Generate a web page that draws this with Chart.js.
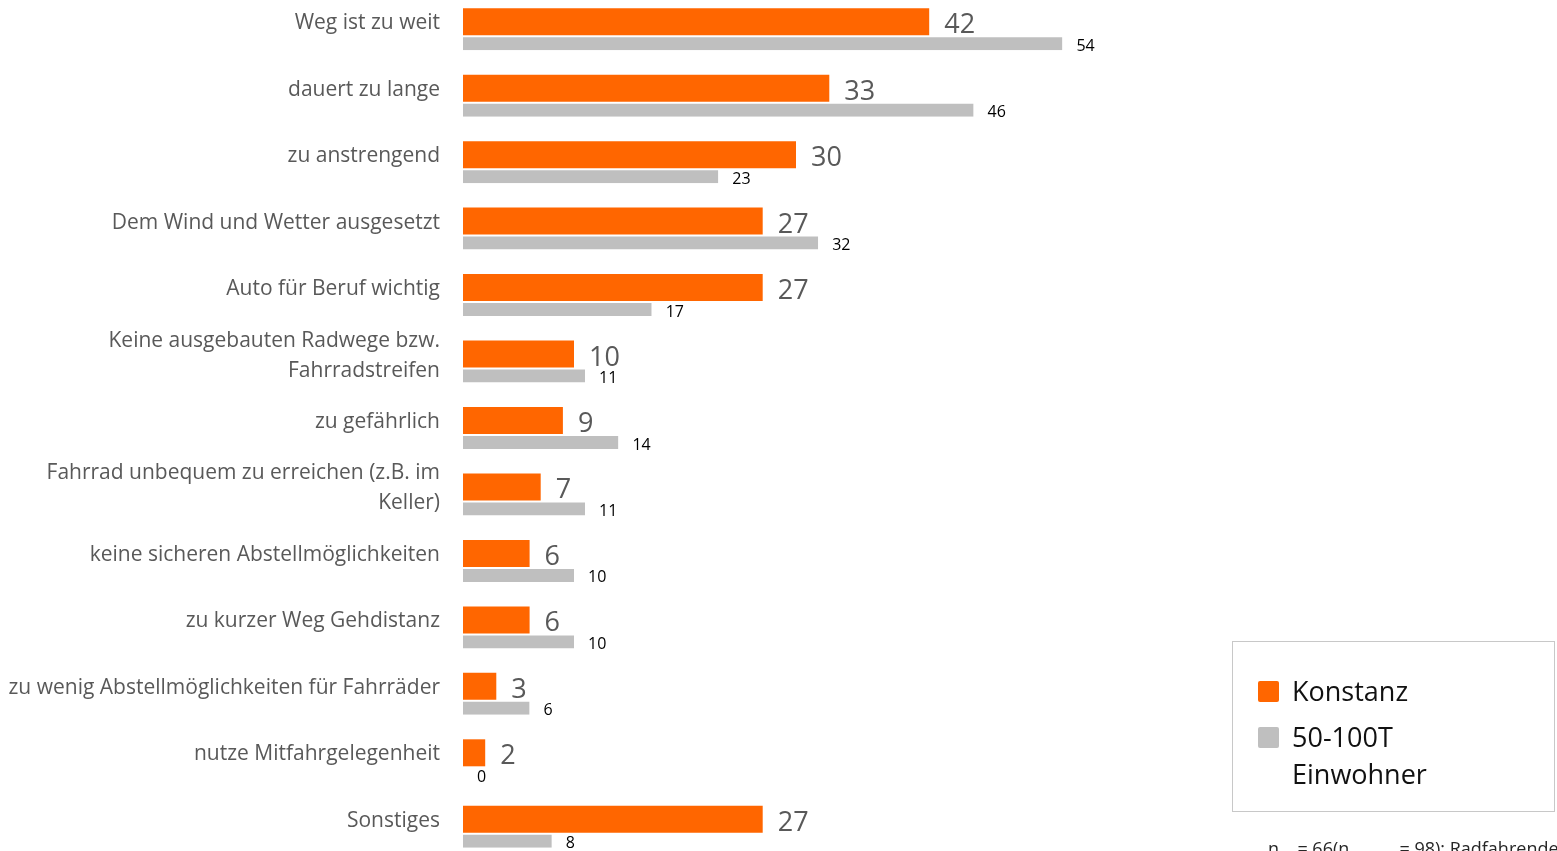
<!DOCTYPE html>
<html>
<head>
<meta charset="utf-8">
<title>Gründe gegen das Fahrrad</title>
<script src="https://cdn.jsdelivr.net/npm/chart.js@4.4.0/dist/chart.umd.min.js"></script>
<style>
  body { margin: 0; background: #fff; overflow: hidden; font-family: "Open Sans", sans-serif; }
  #wrap { position: relative; width: 1557px; height: 900px; }
  #legend { position: absolute; left: 1232px; top: 641px; width: 321px; height: 169px; border: 1px solid #c8c8c8; }
  .item { position: absolute; left: 25px; font-size: 27px; line-height: 37px; color: #111; width: 230px; }
  .swatch { position: absolute; left: 0; top: 9px; width: 21px; height: 21px; border-radius: 2px; }
  .item span.txt { display: block; margin-left: 34px; width: 180px; }
  #note { position: absolute; left: 1268px; top: 839px; font-size: 18px; line-height: 18px; color: #262626; white-space: nowrap; }
  #note sub { font-size: 10px; }
</style>
</head>
<body>
<div id="wrap">
  <canvas id="myChart" width="1557" height="900"></canvas>
  <div id="legend"></div>
  <div id="note">n<sub>KN</sub> = 66(n<sub>50-100T E</sub> = 98); Radfahrende</div>
</div>
<script>
// categories (top to bottom)
const categories = [
  'Weg ist zu weit',
  'dauert zu lange',
  'zu anstrengend',
  'Dem Wind und Wetter ausgesetzt',
  'Auto für Beruf wichtig',
  ['Keine ausgebauten Radwege bzw.', 'Fahrradstreifen'],
  'zu gefährlich',
  ['Fahrrad unbequem zu erreichen (z.B. im', 'Keller)'],
  'keine sicheren Abstellmöglichkeiten',
  'zu kurzer Weg Gehdistanz',
  'zu wenig Abstellmöglichkeiten für Fahrräder',
  'nutze Mitfahrgelegenheit',
  'Sonstiges'
]

// values in percent
const konstanz = [42, 33, 30, 27, 27, 10, 9, 7, 6, 6, 3, 2, 27]
const einwohner50to100 = [54, 46, 23, 32, 17, 11, 14, 11, 10, 10, 6, 0, 8]

const seriesNames = ['Konstanz', '50-100T Einwohner']
const seriesColors = ['#FF6600', '#BFBFBF']

// draws the numbers next to the bars
const valueLabels = {
  id: 'valueLabels',
  afterDatasetsDraw(chart) {
    const ctx = chart.ctx
    ctx.save()
    ctx.textAlign = 'left'
    ctx.textBaseline = 'alphabetic'
    chart.data.datasets.forEach(function (ds, i) {
      const meta = chart.getDatasetMeta(i)
      meta.data.forEach(function (bar, j) {
        if (i === 0) {
          ctx.font = '27px "Open Sans"'
          ctx.fillStyle = '#595959'
          ctx.fillText(ds.data[j], bar.x + 15, bar.y + 11.5)
        } else {
          ctx.font = '16px "Open Sans"'
          ctx.fillStyle = '#000000'
          ctx.fillText(ds.data[j], bar.x + 14, bar.y + 8)
        }
      })
    })
    ctx.restore()
  }
}

var ctx = document.getElementById('myChart').getContext('2d')
var chart = new Chart(ctx, {
  type: 'bar',
  data: {
    labels: categories,
    datasets: [{
      label: seriesNames[0],
      data: konstanz,
      backgroundColor: seriesColors[0],
      borderWidth: 0,
      barThickness: 27,
      inflateAmount: 0
    }, {
      label: seriesNames[1],
      data: einwohner50to100,
      backgroundColor: seriesColors[1],
      borderColor: '#ffffff',
      borderWidth: { top: 2, right: 0, bottom: 0, left: 0 },
      borderSkipped: false,
      barThickness: 15,
      inflateAmount: 0
    }]
  },
  options: {
    indexAxis: 'y',
    responsive: false,
    animation: false,
    layout: { padding: { left: 0, right: 428, top: 2, bottom: 34 } },
    plugins: {
      legend: { display: false },
      tooltip: { enabled: false }
    },
    scales: {
      x: { display: false, min: 0, max: 60 },
      y: {
        grid: { display: false, drawTicks: false },
        border: { display: false },
        afterFit: function (scale) {
          // fixed axis width, no extra room for half labels
          scale.width = 463
          scale.paddingTop = 0
          scale.paddingBottom = 0
        },
        ticks: {
          padding: 23,
          labelOffset: -12,
          color: '#595959',
          font: { family: '"Open Sans"', size: 21, lineHeight: 1.43 }
        }
      }
    }
  },
  plugins: [valueLabels]
})

// legend box built from the datasets
var legend = document.getElementById('legend')
var tops = [30, 76]
chart.data.datasets.forEach(function (ds, i) {
  var item = document.createElement('div')
  item.className = 'item'
  item.style.top = tops[i] + 'px'
  item.innerHTML = '<div class="swatch" style="background:' + ds.backgroundColor + '"></div><span class="txt">' + ds.label + '</span>'
  legend.appendChild(item)
})
</script>
</body>
</html>
